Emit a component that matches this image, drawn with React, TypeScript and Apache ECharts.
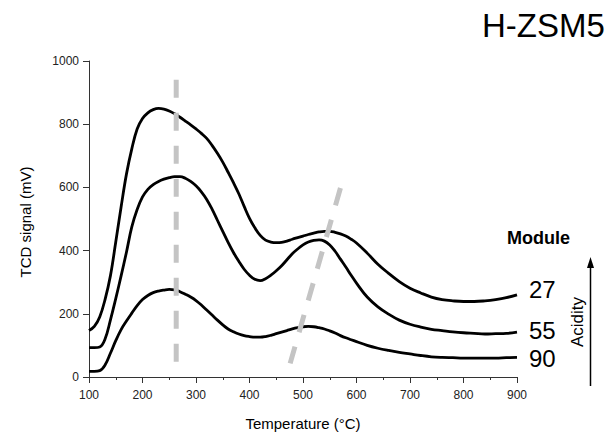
import React, { useEffect, useRef } from "react";
import * as echarts from "echarts";

const temps = [100,110,120,130,140,150,160,170,180,190,200,210,220,230,240,250,260,270,280,290,300,310,320,330,340,350,360,370,380,390,400,410,420,430,440,450,460,470,480,490,500,510,520,530,540,550,560,570,580,590,600,620,640,660,680,700,720,740,760,780,800,820,840,860,880,900];
const module27 = [147,160,190,245,320,427,538,642,722,785,818,836,846,850,848,842,833,822,810,798,785,771,755,733,708,680,648,615,580,540,502,472,448,433,427,425,426,430,436,441,446,451,455,459,461,461,458,453,446,436,424,392,357,328,302,281,266,253,245,241,239,239,241,245,251,260];
const module55 = [93,93,95,120,180,248,320,395,475,530,570,594,609,619,626,631,634,634,629,619,605,586,562,531,496,461,426,394,366,341,322,309,305,311,322,336,352,371,390,405,418,427,432,434,430,418,398,373,348,322,297,253,222,199,180,167,158,151,147,143,140,138,136,137,138,142];
const module90 = [18,18,20,38,75,115,150,177,202,226,245,258,267,272,275,277,276,270,262,253,242,228,212,196,180,165,152,143,136,131,128,126,126,128,132,137,142,147,152,156,159,160,159,156,152,146,139,131,124,118,112,100,91,84,78,73,68,64,62,61,60,60,60,60,61,62];
const dashLow = [[263, 941], [263, 17]];
const dashHigh = [[570, 598], [476, 43]];
const seriesLabels = ["27", "55", "90"];
const xTicks = { min: 100, max: 900, interval: 100 };
const yTicks = { min: 0, max: 1000, interval: 200 };

const FONT = '"Liberation Sans", Arial, Helvetica, sans-serif';

function pairs(values: number[]) {
  return temps.map((t, i) => [t, values[i]]);
}

export default function App() {
  const ref = useRef<HTMLDivElement>(null);
  useEffect(() => {
    if (!ref.current) return;
    const chart = echarts.init(ref.current, null, { renderer: "svg" });
    const curve = (name: string, values: number[]) => ({
      name,
      type: "line",
      data: pairs(values),
      smooth: 0.4,
      symbol: "none",
      z: 2,
      lineStyle: { color: "#000", width: 2.8 },
    });
    const dash = (name: string, data: number[][]) => ({
      name,
      type: "line",
      data,
      symbol: "none",
      z: 3,
      lineStyle: { color: "#c4c4c4", width: 5, type: [18, 15] },
    });
    const txt = (text: string, x: number, y: number, fontSize: number, extra: any = {}) => ({
      type: "text",
      x,
      y,
      rotation: extra.rotation || 0,
      style: {
        text,
        x: 0,
        y: 0,
        fill: "#000",
        fontSize,
        fontFamily: FONT,
        fontWeight: extra.fontWeight || "normal",
        textAlign: extra.align || "left",
        align: extra.align || "left",
        textVerticalAlign: "middle",
        verticalAlign: "middle",
      },
    });
    chart.setOption({
      animation: false,
      grid: { left: 89, right: 89, top: 61, bottom: 56 },
      xAxis: {
        type: "value",
        min: xTicks.min,
        max: xTicks.max,
        interval: xTicks.interval,
        axisLine: { show: true, lineStyle: { color: "#333", width: 1 } },
        axisTick: { show: true, length: 6, lineStyle: { color: "#333" } },
        minorTick: { show: true, splitNumber: 2, length: 3, lineStyle: { color: "#333" } },
        splitLine: { show: false },
        axisLabel: { fontSize: 12, color: "#222", fontFamily: FONT, margin: 12, formatter: (v: number) => String(v) },
      },
      yAxis: {
        type: "value",
        min: yTicks.min,
        max: yTicks.max,
        interval: yTicks.interval,
        axisLine: { show: true, lineStyle: { color: "#333", width: 1 } },
        axisTick: { show: true, length: 6, lineStyle: { color: "#333" } },
        splitLine: { show: false },
        axisLabel: { fontSize: 12, color: "#222", fontFamily: FONT, margin: 10, formatter: (v: number) => String(v) },
      },
      series: [
        curve(seriesLabels[0], module27),
        curve(seriesLabels[1], module55),
        curve(seriesLabels[2], module90),
        dash("dashLow", dashLow),
        dash("dashHigh", dashHigh),
      ],
      graphic: [
        txt("H-ZSM5", 482, 25, 33),
        txt("Module", 507, 238, 18, { fontWeight: "bold" }),
        txt(seriesLabels[0], 529, 289, 24),
        txt(seriesLabels[1], 529, 330, 24),
        txt(seriesLabels[2], 529, 358, 24),
        txt("Acidity", 577, 322, 17, { rotation: Math.PI / 2, align: "center" }),
        txt("TCD signal (mV)", 25, 222, 15, { rotation: Math.PI / 2, align: "center" }),
        txt("Temperature (°C)", 303, 423, 15, { align: "center" }),
        {
          type: "line",
          shape: { x1: 590.5, y1: 386, x2: 590.5, y2: 266 },
          style: { stroke: "#000", lineWidth: 1.5 },
        },
        {
          type: "polygon",
          shape: { points: [[590.5, 257], [587, 268], [594, 268]] },
          style: { fill: "#000" },
        },
      ],
    });
    return () => chart.dispose();
  }, []);
  return (
    <div
      ref={ref}
      style={{ position: "fixed", left: 0, top: 0, width: 606, height: 433, background: "#fff" }}
    />
  );
}
